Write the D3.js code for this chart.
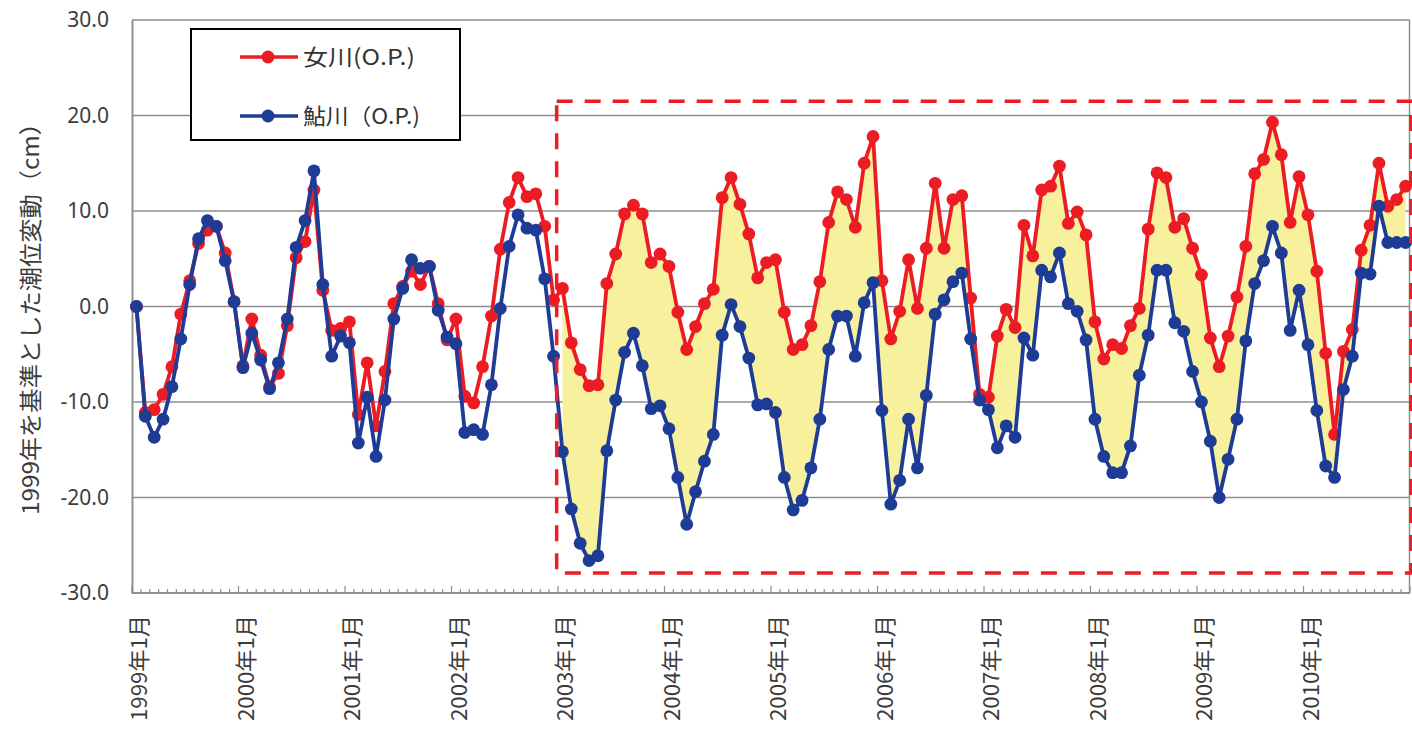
<!DOCTYPE html>
<html lang="ja">
<head>
<meta charset="utf-8">
<script src="https://cdn.jsdelivr.net/npm/d3@7"></script>
<style>
  html, body { margin: 0; padding: 0; background: #fff; }
  svg { display: block; font-family: "Noto Sans CJK JP", "Noto Sans", sans-serif; }
</style>
</head>
<body>
<svg id="chart" width="1412" height="731"></svg>
<script>
// Monthly tide-level change relative to 1999 (cm), Jan 1999 – Dec 2010
const startYear = 1999;
const endYear = 2010;

// 女川 (O.P.)
const onagawa = [
  0.0, -11.1, -10.8, -9.2, -6.3, -0.8, 2.7, 6.6, 8.0, 8.4, 5.6, 0.5,
  -6.2, -1.3, -5.1, -8.4, -7.0, -2.0, 5.1, 6.8, 12.2, 1.7, -2.5, -2.3,
  -1.6, -11.3, -5.9, -12.5, -6.8, 0.3, 2.1, 3.7, 2.3, 4.2, 0.3, -3.5,
  -1.3, -9.4, -10.1, -6.3, -1.0, 6.0, 10.9, 13.5, 11.5, 11.8, 8.4, 0.7,
  1.9, -3.8, -6.6, -8.3, -8.2, 2.4, 5.5, 9.7, 10.6, 9.7, 4.6, 5.5,
  4.2, -0.6, -4.5, -2.1, 0.3, 1.8, 11.4, 13.5, 10.7, 7.6, 3.0, 4.6,
  4.9, -0.6, -4.5, -4.0, -2.0, 2.6, 8.8, 12.0, 11.2, 8.3, 15.0, 17.8,
  2.7, -3.4, -0.5, 4.9, -0.2, 6.1, 12.9, 6.1, 11.2, 11.6, 0.9, -9.2,
  -9.5, -3.1, -0.3, -2.2, 8.5, 5.3, 12.2, 12.6, 14.7, 8.7, 9.9, 7.5,
  -1.6, -5.5, -4.0, -4.4, -2.0, -0.2, 8.1, 14.0, 13.5, 8.3, 9.2, 6.1,
  3.3, -3.3, -6.3, -3.1, 1.0, 6.3, 13.9, 15.4, 19.3, 15.9, 8.8, 13.6,
  9.6, 3.7, -4.9, -13.4, -4.7, -2.4, 5.9, 8.5, 15.0, 10.5, 11.2, 12.6
];

// 鮎川 (O.P.)
const ayukawa = [
  0.0, -11.5, -13.7, -11.8, -8.4, -3.4, 2.3, 7.1, 9.0, 8.4, 4.8, 0.5,
  -6.4, -2.8, -5.6, -8.6, -5.9, -1.3, 6.2, 9.0, 14.2, 2.3, -5.2, -3.1,
  -3.8, -14.3, -9.5, -15.7, -9.8, -1.3, 1.9, 4.9, 4.0, 4.2, -0.4, -3.2,
  -3.9, -13.2, -12.9, -13.4, -8.2, -0.2, 6.3, 9.6, 8.2, 8.0, 2.9, -5.2,
  -15.2, -21.2, -24.8, -26.6, -26.1, -15.1, -9.8, -4.8, -2.8, -6.2, -10.7, -10.4,
  -12.8, -17.9, -22.8, -19.4, -16.2, -13.4, -3.0, 0.2, -2.1, -5.4, -10.3, -10.2,
  -11.1, -17.9, -21.3, -20.3, -16.9, -11.8, -4.5, -1.0, -1.0, -5.2, 0.4, 2.5,
  -10.9, -20.7, -18.2, -11.8, -16.9, -9.3, -0.8, 0.7, 2.6, 3.5, -3.4, -9.8,
  -10.8, -14.8, -12.5, -13.7, -3.3, -5.1, 3.8, 3.1, 5.6, 0.3, -0.5, -3.5,
  -11.8, -15.7, -17.4, -17.4, -14.6, -7.2, -3.0, 3.8, 3.8, -1.7, -2.6, -6.8,
  -10.0, -14.1, -20.0, -16.0, -11.8, -3.6, 2.4, 4.8, 8.4, 5.6, -2.5, 1.7,
  -4.0, -10.9, -16.7, -17.9, -8.7, -5.2, 3.5, 3.4, 10.5, 6.7, 6.7, 6.7
];

const seriesNames = ["女川(O.P.)", "鮎川（O.P.)"];
const yTicks = [30, 20, 10, 0, -10, -20, -30];
const yTitle = "1999年を基準とした潮位変動（cm）";

// Month categories and the yearly axis labels
const months = [];
for (let y = startYear; y <= endYear; y++) for (let m = 1; m <= 12; m++) months.push(`${y}年${m}月`);
const yearLabels = months.filter(d => d.endsWith("年1月"));

// Shaded gap between the two stations from this month onward
const shadeFrom = "2003年1月";
// Highlighted period (dashed frame), in month index / cm
const frameMonths = [47.35, 143.6];
const frameValues = [21.5, -27.9];

const colors = { onagawa: "#ec1c24", ayukawa: "#1e3b96", shade: "#f7f09c", grid: "#8e8e8e", text: "#3c3c3c" };

const svg = d3.select("#chart");
const plot = { left: 132, right: 1410, top: 20, bottom: 593 };

const x = d3.scaleLinear().domain([-0.5, months.length - 0.5]).range([plot.left, plot.right]);
const y = d3.scaleLinear().domain([-30, 30]).range([plot.bottom, plot.top]);

// Horizontal gridlines
svg.append("g").selectAll("line").data(yTicks.filter(v => v > -30)).join("line")
  .attr("x1", plot.left).attr("x2", plot.right)
  .attr("y1", d => y(d)).attr("y2", d => y(d))
  .attr("stroke", colors.grid).attr("stroke-width", 1.5);
// Right border
svg.append("line").attr("x1", plot.right - 0.5).attr("x2", plot.right - 0.5)
  .attr("y1", plot.top).attr("y2", plot.bottom)
  .attr("stroke", colors.grid).attr("stroke-width", 1.5);

// Y axis (plain hyphen for negatives)
const fmt = v => (v < 0 ? "-" : "") + Math.abs(v).toFixed(1);
const yAxis = d3.axisLeft(y).tickValues(yTicks).tickFormat(fmt).tickSize(0).tickPadding(23);
const gy = svg.append("g").attr("transform", `translate(${plot.left},0)`).call(yAxis);
gy.select(".domain").attr("stroke", colors.grid).attr("stroke-width", 2);
gy.selectAll("text").attr("font-size", 21).attr("fill", colors.text)
  .attr("font-family", "'Noto Sans', sans-serif");

// X axis with month ticks between categories, longer at year boundaries
const boundaries = d3.range(0, months.length + 1).map(i => i - 0.5);
const gx = svg.append("g").attr("transform", `translate(0,${plot.bottom})`);
gx.append("line").attr("x1", plot.left).attr("x2", plot.right)
  .attr("stroke", colors.grid).attr("stroke-width", 2);
gx.selectAll("line.tick").data(boundaries).join("line").attr("class", "tick")
  .attr("x1", d => x(d)).attr("x2", d => x(d))
  .attr("y1", 0).attr("y2", d => ((d + 0.5) % 12 === 0 ? -7 : -4))
  .attr("stroke", colors.grid).attr("stroke-width", 1.2);
gx.selectAll("text").data(yearLabels).join("text")
  .attr("transform", d => `translate(${x(months.indexOf(d)) + 11},${22}) rotate(-90)`)
  .attr("text-anchor", "end")
  .attr("font-size", 22).attr("fill", colors.text)
  .attr("textLength", 106).attr("lengthAdjust", "spacingAndGlyphs")
  .text(d => d);

// Y axis title
svg.append("text")
  .attr("transform", `translate(39,${313}) rotate(-90)`)
  .attr("text-anchor", "middle").attr("font-size", 23).attr("fill", colors.text)
  .attr("textLength", 404).attr("lengthAdjust", "spacingAndGlyphs")
  .text(yTitle);

// Shaded band between the two series
const startIdx = months.indexOf(shadeFrom);
const band = d3.range(startIdx, months.length);
svg.append("path")
  .datum(band)
  .attr("fill", colors.shade)
  .attr("d", d3.area().x(i => x(i)).y0(i => y(ayukawa[i])).y1(i => y(onagawa[i])));

// Series lines and markers (鮎川 drawn on top)
const series = [
  { name: seriesNames[0], values: onagawa, color: colors.onagawa },
  { name: seriesNames[1], values: ayukawa, color: colors.ayukawa }
];
const line = d3.line().x((d, i) => x(i)).y(d => y(d));
series.forEach(s => {
  const g = svg.append("g");
  g.append("path").datum(s.values).attr("fill", "none")
    .attr("stroke", s.color).attr("stroke-width", 3.8).attr("stroke-linejoin", "round")
    .attr("d", line);
  g.selectAll("circle").data(s.values).join("circle")
    .attr("cx", (d, i) => x(i)).attr("cy", d => y(d)).attr("r", 6.4)
    .attr("fill", s.color);
});

// Dashed frame around the highlighted period
svg.append("rect")
  .attr("x", x(frameMonths[0])).attr("y", y(frameValues[0]))
  .attr("width", x(frameMonths[1]) - x(frameMonths[0]))
  .attr("height", y(frameValues[1]) - y(frameValues[0]))
  .attr("fill", "none").attr("stroke", "#ee1c25").attr("stroke-width", 3.5)
  .attr("stroke-dasharray", "16,12");

// Legend
const legend = svg.append("g").attr("transform", "translate(191,29)");
legend.append("rect").attr("width", 269).attr("height", 111)
  .attr("fill", "#fff").attr("stroke", "#000").attr("stroke-width", 2);
const legendWidths = [112, 117];
series.forEach((s, k) => {
  const row = legend.append("g").attr("transform", `translate(0,${28 + k * 59})`);
  row.append("line").attr("x1", 49).attr("x2", 107).attr("stroke", s.color).attr("stroke-width", 3.5);
  row.append("circle").attr("cx", 77).attr("r", 6.5).attr("fill", s.color);
  row.append("text").attr("x", 112).attr("y", 8).attr("font-size", 22).attr("fill", "#333")
    .attr("textLength", legendWidths[k]).attr("lengthAdjust", "spacingAndGlyphs")
    .text(s.name);
});
</script>
</body>
</html>
